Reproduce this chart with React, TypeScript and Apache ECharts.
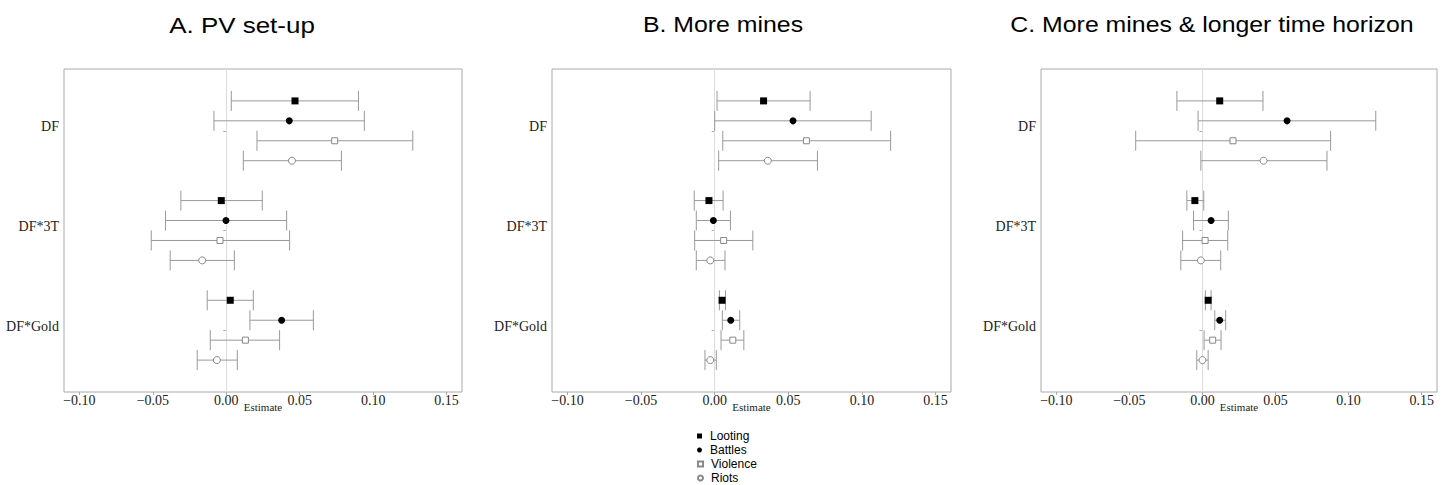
import React, { useEffect, useRef } from "react";
import * as echarts from "echarts";

// ---- data ----
const categories = ["DF", "DF*3T", "DF*Gold"];
const seriesNames = ["Looting", "Battles", "Violence", "Riots"];
const panelTitles = ["A. PV set-up", "B. More mines", "C. More mines & longer time horizon"];
const xTicks = [-0.1, -0.05, 0, 0.05, 0.1, 0.15];

// each entry: [estimate, lower, upper] for DF, DF*3T, DF*Gold
const pvLooting = [[0.0468, 0.0034, 0.09], [-0.0034, -0.0309, 0.0245], [0.0027, -0.013, 0.0184]];
const pvBattles = [[0.0429, -0.0084, 0.094], [-0.0002, -0.0414, 0.0411], [0.0377, 0.0161, 0.0593]];
const pvViolence = [[0.0738, 0.0209, 0.127], [-0.0043, -0.0511, 0.0431], [0.013, -0.0109, 0.0363]];
const pvRiots = [[0.0447, 0.0116, 0.0784], [-0.0164, -0.0382, 0.0055], [-0.0064, -0.0198, 0.0075]];

const mmLooting = [[0.0332, 0.0016, 0.0648], [-0.0039, -0.0139, 0.0057], [0.005, 0.0032, 0.0073]];
const mmBattles = [[0.0532, 0.0, 0.1063], [-0.0009, -0.0125, 0.0107], [0.0109, 0.0052, 0.017]];
const mmViolence = [[0.0623, 0.0055, 0.1195], [0.0061, -0.0136, 0.0259], [0.0123, 0.0043, 0.0198]];
const mmRiots = [[0.0361, 0.0027, 0.0698], [-0.003, -0.0125, 0.007], [-0.003, -0.0066, 0.0011]];

const ltLooting = [[0.0118, -0.0175, 0.0414], [-0.0052, -0.0107, 0.0009], [0.0039, 0.002, 0.0059]];
const ltBattles = [[0.0579, -0.003, 0.1186], [0.0059, -0.0061, 0.0177], [0.0118, 0.0084, 0.0159]];
const ltViolence = [[0.0209, -0.0457, 0.0877], [0.0018, -0.0136, 0.0173], [0.007, 0.0011, 0.0127]];
const ltRiots = [[0.0418, -0.0011, 0.0852], [-0.0011, -0.0148, 0.0125], [0.0, -0.0039, 0.0039]];

const panels = [
  [pvLooting, pvBattles, pvViolence, pvRiots],
  [mmLooting, mmBattles, mmViolence, mmRiots],
  [ltLooting, ltBattles, ltViolence, ltRiots],
];

// ---- styling ----
const offsets = [-0.3, -0.1, 0.1, 0.3];
const gridLefts = [64, 552, 1041];
const gridWidths = [398, 399, 396];
const titleCenters = [242, 723, 1212];
const titleScales = [1.18, 1.13, 1.13];
const symbols = ["rect", "circle", "rect", "circle"];
const symbolSizes = [7, 7, 6, 7];
const fills = ["#000", "#000", "#fff", "#fff"];
const borders = ["#000", "#000", "#888", "#888"];
const serif = '"Liberation Serif", "DejaVu Serif", serif';
const sans = '"Liberation Sans", Arial, sans-serif';

function fmt(v: number) {
  const s = Math.abs(v).toFixed(2);
  return v < -1e-9 ? "\u2212" + s : s;
}

export default function App() {
  const ref = useRef<HTMLDivElement>(null);
  useEffect(() => {
    document.body.style.margin = "0";
    const chart = echarts.init(ref.current!, null, { renderer: "svg" });
    const grids: any[] = [];
    const xAxes: any[] = [];
    const yAxes: any[] = [];
    const series: any[] = [];
    panels.forEach((panel, p) => {
      grids.push({
        left: gridLefts[p],
        width: gridWidths[p],
        top: 69,
        height: 323,
        show: true,
        borderColor: "#aaa",
        borderWidth: 1,
        backgroundColor: "transparent",
      });
      xAxes.push({
        type: "value",
        gridIndex: p,
        min: -0.1105,
        max: 0.1605,
        axisLine: { show: false },
        splitLine: { show: false },
        axisTick: { show: true, customValues: xTicks, length: 3, lineStyle: { color: "#aaa" } },
        axisLabel: {
          customValues: xTicks,
          formatter: (v: number) => fmt(v),
          fontFamily: serif,
          fontSize: 14,
          color: "#222",
          margin: 1,
        },
        name: "Estimate",
        nameLocation: "middle",
        nameGap: 9,
        nameMoveOverlap: false,
        nameTextStyle: { fontFamily: serif, fontSize: 11, color: "#222", verticalAlign: "top" },
      });
      yAxes.push({
        type: "value",
        gridIndex: p,
        inverse: true,
        min: 0.38,
        max: 3.62,
        axisLine: { show: false },
        splitLine: { show: false },
        axisTick: { show: true, customValues: [1, 2, 3], length: 3, lineStyle: { color: "#aaa" } },
        axisLabel: {
          customValues: [1, 2, 3],
          formatter: (v: number) => categories[Math.round(v) - 1] || "",
          fontFamily: serif,
          fontSize: 14,
          color: "#222",
          margin: 5,
          verticalAlign: "bottom",
          lineHeight: 8,
        },
      });
      panel.forEach((rows, s) => {
        const errData = rows.map((r, i) => [r[1], r[2], i + 1 + offsets[s]]);
        const ptData = rows.map((r, i) => [r[0], i + 1 + offsets[s]]);
        series.push({
          type: "custom",
          name: seriesNames[s] + "-ci",
          xAxisIndex: p,
          yAxisIndex: p,
          data: errData,
          encode: { x: [0, 1], y: 2 },
          silent: true,
          z: 2,
          renderItem: (params: any, api: any) => {
            const lo = api.coord([api.value(0), api.value(2)]);
            const hi = api.coord([api.value(1), api.value(2)]);
            const h = 10;
            const style = { stroke: "#999", lineWidth: 1, fill: "none" };
            return {
              type: "group",
              children: [
                { type: "line", shape: { x1: lo[0], y1: lo[1], x2: hi[0], y2: hi[1] }, style },
                { type: "line", shape: { x1: lo[0], y1: lo[1] - h, x2: lo[0], y2: lo[1] + h }, style },
                { type: "line", shape: { x1: hi[0], y1: hi[1] - h, x2: hi[0], y2: hi[1] + h }, style },
              ],
            };
          },
          ...(s === 0
            ? {
                markLine: {
                  silent: true,
                  symbol: ["none", "none"],
                  label: { show: false },
                  lineStyle: { color: "#ddd", type: "solid", width: 1 },
                  data: [{ xAxis: 0 }],
                  z: 1,
                },
              }
            : {}),
        });
        series.push({
          type: "scatter",
          name: seriesNames[s],
          xAxisIndex: p,
          yAxisIndex: p,
          data: ptData,
          symbol: symbols[s],
          symbolSize: symbolSizes[s],
          itemStyle: { color: fills[s], borderColor: borders[s], borderWidth: s >= 2 ? 1 : 0, opacity: 1 },
          z: 3,
        });
      });
    });

    chart.setOption({
      animation: false,
      backgroundColor: "#fff",
      grid: grids,
      xAxis: xAxes,
      yAxis: yAxes,
      series,
      legend: seriesNames.map((n, i) => ({
        orient: "vertical",
        left: 697,
        top: 429 + i * 14,
        itemWidth: 5,
        itemHeight: 5,
        itemGap: 0,
        padding: 0,
        selectedMode: false,
        textStyle: { fontFamily: sans, fontSize: 12, color: "#000", lineHeight: 14, padding: [0, 0, 0, 3] },
        data: [{ name: n, icon: symbols[i] === "rect" ? "rect" : "circle" }],
      })),
      graphic: panelTitles.map((t, i) => ({
        type: "text",
        x: titleCenters[i],
        y: 25,
        scaleX: titleScales[i],
        style: {
          text: t,
          font: `22px ${sans}`,
          fill: "#000",
          textAlign: "center",
          textVerticalAlign: "middle",
        },
      })),
    });
    return () => chart.dispose();
  }, []);
  return <div ref={ref} style={{ width: 1448, height: 485 }} />;
}
